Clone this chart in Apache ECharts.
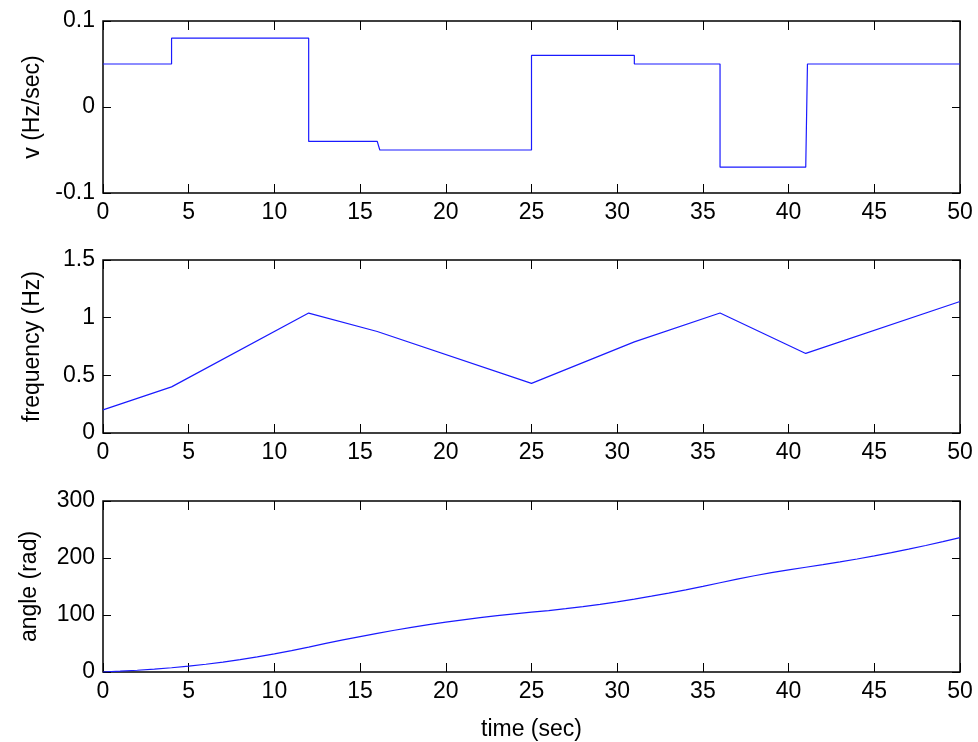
<!DOCTYPE html>
<html>
<head>
<meta charset="utf-8">
<title>v, frequency and angle vs time</title>
<script src="https://cdn.jsdelivr.net/npm/echarts@6/dist/echarts.min.js"></script>
<style>
  html, body { margin: 0; padding: 0; background: #ffffff; }
  #chart { width: 978px; height: 742px; }
</style>
</head>
<body>
<div id="chart"></div>
<script>
// Sweep rate v (Hz/sec): piecewise constant, listed as corner points
const vTimes  = [0, 4, 4, 12, 12, 16, 16.15, 25, 25, 31, 31, 36, 36, 41, 41.1, 50];
const vValues = [0.05, 0.05, 0.08, 0.08, -0.04, -0.04, -0.05, -0.05, 0.06, 0.06, 0.05, 0.05, -0.07, -0.07, 0.05, 0.05];

// Instantaneous frequency (Hz) at the breakpoints
const freqTimes  = [0, 4, 12, 16, 25, 31, 36, 41, 50];
const freqValues = [0.2, 0.4, 1.04, 0.88, 0.43, 0.79, 1.04, 0.69, 1.14];

// Phase angle (rad), one reading per second
const angleTimes = [0, 1, 2, 3, 4, 5, 6, 7, 8, 9, 10, 11, 12, 13, 14, 15, 16, 17, 18, 19, 20,
  21, 22, 23, 24, 25, 26, 27, 28, 29, 30, 31, 32, 33, 34, 35, 36, 37, 38, 39, 40,
  41, 42, 43, 44, 45, 46, 47, 48, 49, 50];
const angleValues = [0, 1.4, 3.1, 5.2, 7.5, 10.3, 13.6, 17.3, 21.6, 26.4, 31.7, 37.5, 43.7, 50.1, 56.3, 62.2,
  67.9, 73.2, 78.3, 83.0, 87.5, 91.6, 95.4, 98.9, 102.0, 104.9, 107.8, 111.1, 114.7, 118.7, 123.1,
  127.9, 133.0, 138.5, 144.2, 150.3, 156.6, 163.0, 168.8, 174.3, 179.3, 183.8, 188.3, 193.1, 198.2,
  203.7, 209.4, 215.5, 221.9, 228.6, 235.6];

// Axis ranges and ticks
const timeTicks = { min: 0, max: 50, interval: 5 };
const panels = [
  { title: 'v (Hz/sec)',     min: -0.1, max: 0.1, interval: 0.1, nameGap: 59 },
  { title: 'frequency (Hz)', min: 0,    max: 1.5, interval: 0.5, nameGap: 59 },
  { title: 'angle (rad)',    min: 0,    max: 300, interval: 100, nameGap: 62 }
];
const xTitle = 'time (sec)';

const FONT = '"Liberation Sans", Arial, Helvetica, sans-serif';
const FS = 23;
const grids = [
  { left: 103, right: 18, top: 21,  height: 172 },
  { left: 103, right: 18, top: 260, height: 173 },
  { left: 103, right: 18, top: 501, height: 172 }
];

function pairs(xs, ys) { return xs.map((x, i) => [x, ys[i]]); }
function fmtY(v) {
  const r = Math.round(v * 1000) / 1000;
  return String(r);
}

const tickStyle = { color: '#000', width: 1 };
const xAxes = [], yAxes = [];
grids.forEach((g, i) => {
  const last = i === grids.length - 1;
  // bottom time axis with labels
  xAxes.push({
    type: 'value', gridIndex: i, position: 'bottom',
    min: timeTicks.min, max: timeTicks.max, interval: timeTicks.interval,
    axisLine: { show: false, onZero: false },
    axisTick: { show: true, inside: true, length: 9, lineStyle: tickStyle },
    axisLabel: { show: true, margin: 8, color: '#000', fontFamily: FONT, fontSize: FS,
                 showMinLabel: true, showMaxLabel: true, hideOverlap: false },
    splitLine: { show: false },
    name: last ? xTitle : '', nameLocation: 'middle', nameGap: 46,
    nameTextStyle: { color: '#000', fontFamily: FONT, fontSize: FS }
  });
  // top mirror axis: ticks only
  xAxes.push({
    type: 'value', gridIndex: i, position: 'top',
    min: timeTicks.min, max: timeTicks.max, interval: timeTicks.interval,
    axisLine: { show: false, onZero: false },
    axisTick: { show: true, inside: true, length: 9, lineStyle: tickStyle },
    axisLabel: { show: false }, splitLine: { show: false }
  });
  const p = panels[i];
  yAxes.push({
    type: 'value', gridIndex: i, position: 'left',
    min: p.min, max: p.max, interval: p.interval,
    axisLine: { show: false, onZero: false },
    axisTick: { show: true, inside: true, length: 8, lineStyle: tickStyle },
    axisLabel: { show: true, margin: 8, color: '#000', fontFamily: FONT, fontSize: FS,
                 formatter: fmtY, showMinLabel: true, showMaxLabel: true },
    splitLine: { show: false },
    name: p.title, nameLocation: 'middle', nameGap: p.nameGap, nameRotate: 90,
    nameTextStyle: { color: '#000', fontFamily: FONT, fontSize: FS }
  });
  // right mirror axis: ticks only
  yAxes.push({
    type: 'value', gridIndex: i, position: 'right',
    min: p.min, max: p.max, interval: p.interval,
    axisLine: { show: false, onZero: false },
    axisTick: { show: true, inside: true, length: 8, lineStyle: tickStyle },
    axisLabel: { show: false }, splitLine: { show: false }
  });
});

const lineStyle = { color: '#1a1aff', width: 1.2 };
const option = {
  backgroundColor: '#ffffff',
  animation: false,
  grid: grids.map(g => Object.assign({ show: true, borderColor: '#000', borderWidth: 1.5,
                                       backgroundColor: 'transparent', containLabel: false }, g)),
  xAxis: xAxes,
  yAxis: yAxes,
  series: [
    { type: 'line', xAxisIndex: 0, yAxisIndex: 0, data: pairs(vTimes, vValues),
      showSymbol: false, lineStyle: lineStyle, itemStyle: { color: '#1a1aff' } },
    { type: 'line', xAxisIndex: 2, yAxisIndex: 2, data: pairs(freqTimes, freqValues),
      showSymbol: false, lineStyle: lineStyle, itemStyle: { color: '#1a1aff' } },
    { type: 'line', xAxisIndex: 4, yAxisIndex: 4, data: pairs(angleTimes, angleValues),
      showSymbol: false, lineStyle: lineStyle, itemStyle: { color: '#1a1aff' } }
  ]
};

const chart = echarts.init(document.getElementById('chart'), null, { renderer: 'canvas' });
chart.setOption(option);
</script>
</body>
</html>
